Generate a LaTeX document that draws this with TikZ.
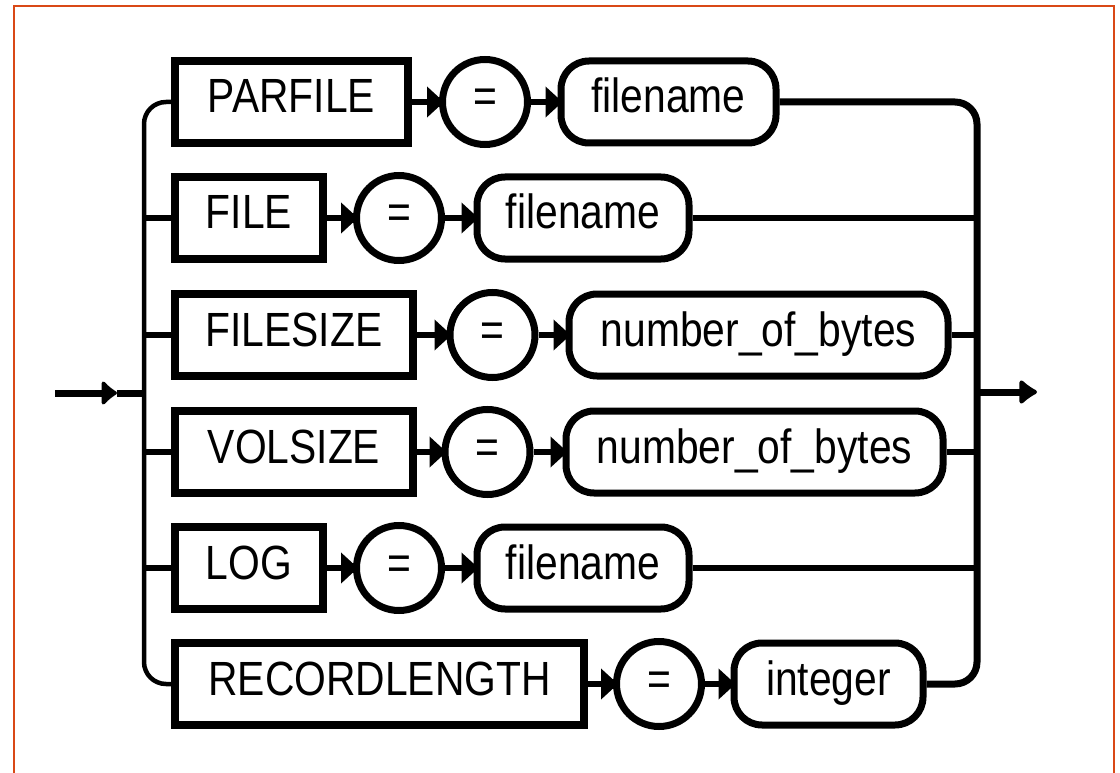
\documentclass[tikz,border=0pt]{standalone}
\usepackage{fontspec}
\setmainfont{Liberation Sans}
\usepackage{graphicx}
\usetikzlibrary{arrows.meta}
\definecolor{framecol}{RGB}{217,72,22}
\newcommand\rrtxt[1]{\scalebox{0.85}[1]{#1}}
\begin{document}
\begin{tikzpicture}[x=1pt,y=-1pt,
  every node/.style={font=\fontsize{48}{50}\selectfont, inner sep=0pt, text height=30pt, text depth=8pt},
  kw/.style={draw, rectangle, line width=8pt, minimum height=82pt},
  eqc/.style={draw, circle, line width=7pt, minimum size=85pt},
  var/.style={draw, rectangle, rounded corners=28pt, line width=7pt, minimum height=82pt},
  railline/.style={line width=6pt},
  smalltip/.style={-{Triangle[length=17pt,width=30pt]}, shorten >=-5pt},
]
\useasboundingbox (0,0) rectangle (1120,773);
\draw[framecol, line width=2.5pt] (14,780) -- (14,6) -- (1114,6) -- (1114,780);

% row 1
\node[kw, minimum width=233pt] (b1) at (291.5,102) {\rrtxt{PARFILE}};
\node[eqc] (c1) at (485,102) {\rrtxt{=}};
\node[var, minimum width=215pt] (e1) at (668.5,102) {\rrtxt{filename}};
% row 2
\node[kw, minimum width=148pt] (b2) at (249,218) {\rrtxt{FILE}};
\node[eqc] (c2) at (399,218) {\rrtxt{=}};
\node[var, minimum width=212pt] (e2) at (583,218) {\rrtxt{filename}};
% row 3
\node[kw, minimum width=238pt] (b3) at (294,335) {\rrtxt{FILESIZE}};
\node[eqc] (c3) at (492.5,335) {\rrtxt{=}};
\node[var, minimum width=379pt] (e3) at (758.5,335) {\rrtxt{number\_of\_bytes}};
% row 4
\node[kw, minimum width=238pt] (b4) at (294,452) {\rrtxt{VOLSIZE}};
\node[eqc] (c4) at (487.5,452) {\rrtxt{=}};
\node[var, minimum width=377pt] (e4) at (754.5,452) {\rrtxt{number\_of\_bytes}};
% row 5
\node[kw, minimum width=148pt] (b5) at (249,568) {\rrtxt{LOG}};
\node[eqc] (c5) at (399,568) {\rrtxt{=}};
\node[var, minimum width=212pt] (e5) at (583,568) {\rrtxt{filename}};
% row 6
\node[kw, minimum width=409pt] (b6) at (379.5,684) {\rrtxt{RECORDLENGTH}};
\node[eqc] (c6) at (659,684) {\rrtxt{=}};
\node[var, minimum width=189pt] (e6) at (828.5,684) {\rrtxt{integer}};

\foreach \n in {1,...,6}{
  \draw[railline, smalltip] (b\n) -- (c\n);
  \draw[railline, smalltip] (c\n) -- (e\n);
}

% left bracket
\coordinate (L) at (144,393);
\draw[line width=4.5pt, rounded corners=22pt] (b1.west) -| (L) |- (b6.west);
\foreach \n in {2,...,5}{
  \draw[railline] (b\n.west -| L) -- (b\n.west);
}

% right bracket
\coordinate (R) at (977,392);
\draw[line width=7pt, rounded corners=22pt] (e1.east) -| (R) |- (e6.east);
\foreach \n in {2,...,5}{
  \draw[railline] (e\n.east) -- (e\n.east -| R);
}

% entry and exit
\coordinate (in) at (55,393);
\coordinate (inm) at (117,393);
\draw[line width=7pt, -{Latex[length=17pt,width=30pt,round]}] (in) -- (inm);
\draw[line width=7pt] (inm) -- (L);
\coordinate (out) at (1037,392);
\draw[line width=7pt, -{Latex[length=20pt,width=30pt,round]}] (R) -- (out);
\end{tikzpicture}
\end{document}
